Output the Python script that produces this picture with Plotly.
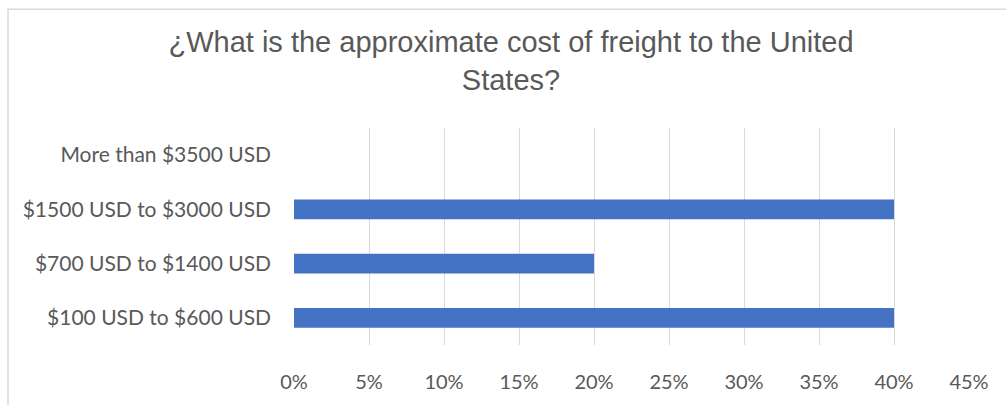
import plotly.graph_objects as go

# Survey answers: share of respondents per freight-cost bracket
categories = [
    "$100 USD to $600 USD",
    "$700 USD to $1400 USD",
    "$1500 USD to $3000 USD",
    "More than $3500 USD",
]
shares = [0.40, 0.20, 0.40, 0.0]
tick_values = [0, 0.05, 0.10, 0.15, 0.20, 0.25, 0.30, 0.35, 0.40, 0.45]
tick_labels = ["0%", "5%", "10%", "15%", "20%", "25%", "30%", "35%", "40%", "45%"]

W, H = 1006, 405
L, R, T, B = 294, 37, 128, 56
plot_w = W - L - R
plot_h = H - T - B

fig = go.Figure(
    go.Bar(
        x=shares,
        y=categories,
        orientation="h",
        marker=dict(color="#4472C4", line=dict(width=0)),
        hoverinfo="skip",
    )
)

# outer chart frame (light grey), left/top edges visible
fx0 = (8 - L) / plot_w
fy1 = 1 + (T - 7) / plot_h
fig.add_shape(
    type="rect", xref="paper", yref="paper",
    x0=fx0, x1=2.0, y0=-2.0, y1=fy1,
    line=dict(color="#D9D9D9", width=1.5), fillcolor="rgba(0,0,0,0)",
    layer="below",
)

cat_font = dict(family="Lato, Calibri, sans-serif", size=21, color="#595959")
pct_font = dict(family="Lato, Calibri, sans-serif", size=20, color="#595959")

fig.update_layout(
    width=W, height=H,
    margin=dict(l=L, r=R, t=T, b=B, pad=0),
    paper_bgcolor="white", plot_bgcolor="white",
    bargap=0.64,
    showlegend=False,
    title=dict(
        text="¿What is the approximate cost of freight to the United<br>States?",
        x=511 / W, xanchor="center",
        y=1 - 52 / H, yanchor="top",
        font=dict(family="Liberation Sans, Arial", size=29, color="#595959"),
    ),
    xaxis=dict(
        range=[0, 0.45],
        tickvals=tick_values, ticktext=tick_labels,
        showgrid=True, gridcolor="#D9D9D9", gridwidth=1,
        zeroline=False, showline=False, ticks="",
        ticklabelstandoff=23,
        tickfont=pct_font,
        fixedrange=True,
    ),
    yaxis=dict(
        showgrid=False, zeroline=False, showline=False, ticks="",
        ticklabelstandoff=22,
        tickfont=cat_font,
        fixedrange=True,
    ),
)

fig.write_html("out.html", config={"displayModeBar": False})
